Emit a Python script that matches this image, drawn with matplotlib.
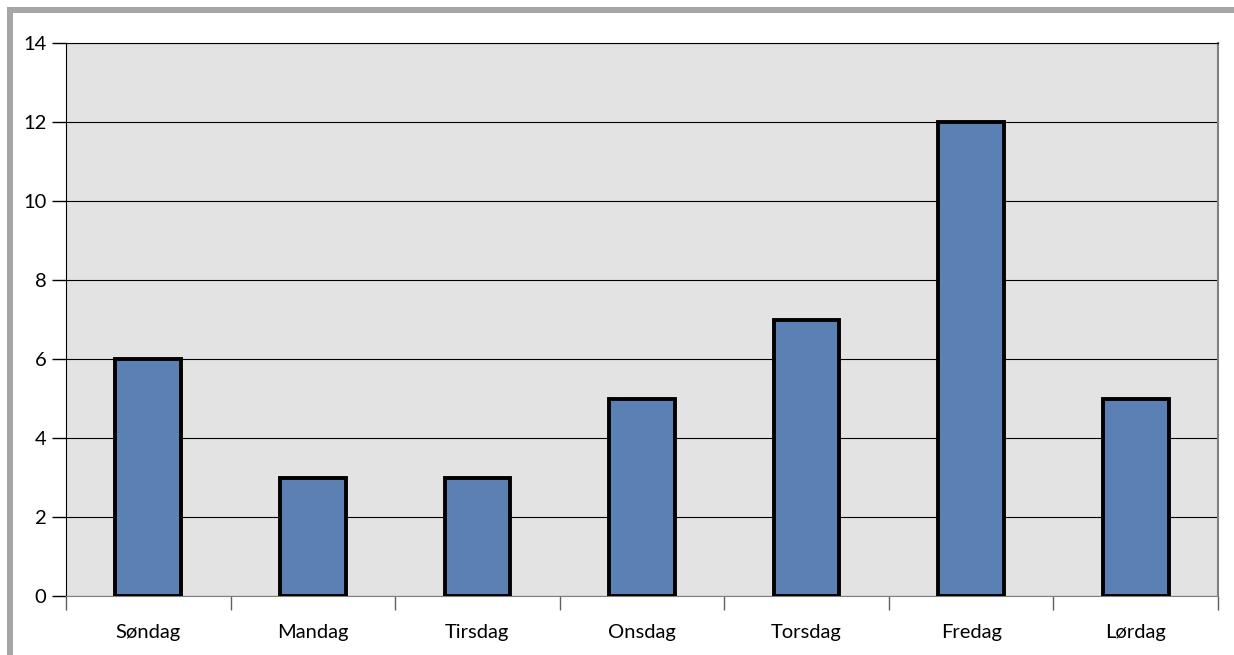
import matplotlib.pyplot as plt
from matplotlib.patches import Rectangle

days = ["Søndag", "Mandag", "Tirsdag", "Onsdag", "Torsdag", "Fredag", "Lørdag"]
counts = [6, 3, 3, 5, 7, 12, 5]
yticks = [0, 2, 4, 6, 8, 10, 12, 14]

plt.rcParams["font.family"] = ["Lato", "DejaVu Sans"]

fig = plt.figure(figsize=(12.34, 6.55), dpi=100)
W, H = 1234, 655

# grey chart frame (left and top edges visible)
fig.add_artist(Rectangle((7 / W, 0), 6 / W, 1 - 7 / H, transform=fig.transFigure,
                         color="#a6a6a6", lw=0))
fig.add_artist(Rectangle((7 / W, 1 - 13 / H), 1, 6 / H, transform=fig.transFigure,
                         color="#a6a6a6", lw=0))

ax = fig.add_axes([66 / W, 59 / H, (1218 - 66) / W, (596 - 43) / H])
ax.set_facecolor("#e3e3e3")

x = list(range(len(days)))
ax.bar(x, counts, width=0.4, color="#5b80b4", edgecolor="black", linewidth=2.8, zorder=3)

ax.set_xlim(-0.5, len(days) - 0.5)
ax.set_ylim(0, 14)
ax.set_yticks(yticks)
ax.yaxis.grid(True, color="black", linewidth=0.8, zorder=1)
ax.set_axisbelow(True)

# category labels centered, ticks at boundaries
ax.set_xticks(x)
ax.set_xticklabels(days, fontsize=14.5)
ax.tick_params(axis="x", length=0, pad=20)
ax.set_xticks([i - 0.5 for i in range(len(days) + 1)], minor=True)
ax.tick_params(axis="x", which="minor", length=10, width=1, color="#606060", direction="out")
ax.tick_params(axis="y", length=10, width=1, labelsize=14.5, pad=4)

ax.spines["top"].set_color("black")
ax.spines["left"].set_color("black")
ax.spines["right"].set_color("#808080")
ax.spines["right"].set_linewidth(1.5)
ax.spines["bottom"].set_color("#808080")

plt.savefig("out.png", dpi=100)
